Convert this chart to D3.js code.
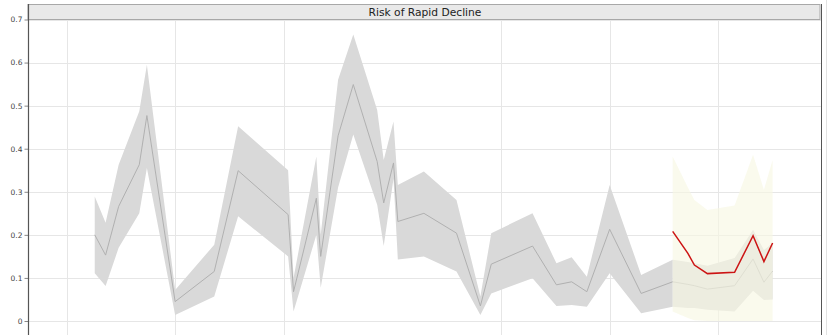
<!DOCTYPE html>
<html>
<head>
<meta charset="utf-8">
<script src="https://cdn.jsdelivr.net/npm/d3@7"></script>
<style>
    body { margin: 0; background: #fff; }
    svg { display: block; font-family: "DejaVu Sans", Verdana, sans-serif; }
</style>
</head>
<body>
<div id="chart"></div>
<script>
// Modelled risk (grey band) - decimal years
const dates = [2008.26, 2008.36, 2008.48, 2008.67, 2008.74, 2009.00, 2009.36, 2009.58,
    2010.04, 2010.09, 2010.30, 2010.34, 2010.50, 2010.64, 2010.86, 2010.92, 2011.01, 2011.05,
    2011.29, 2011.59, 2011.81, 2011.91, 2012.29, 2012.51, 2012.65, 2012.79, 2013.00, 2013.29, 2013.58];
const riskMid = [0.200, 0.153, 0.266, 0.363, 0.477, 0.045, 0.115, 0.349,
    0.247, 0.068, 0.285, 0.150, 0.430, 0.549, 0.370, 0.274, 0.367, 0.231,
    0.250, 0.204, 0.035, 0.132, 0.174, 0.084, 0.091, 0.068, 0.213, 0.064, 0.091];
const riskHigh = [0.289, 0.228, 0.363, 0.487, 0.595, 0.072, 0.177, 0.452,
    0.350, 0.100, 0.382, 0.200, 0.560, 0.665, 0.490, 0.374, 0.463, 0.316,
    0.347, 0.281, 0.057, 0.204, 0.250, 0.134, 0.148, 0.103, 0.316, 0.107, 0.142];
const riskLow = [0.111, 0.081, 0.170, 0.250, 0.355, 0.014, 0.057, 0.243,
    0.150, 0.022, 0.200, 0.077, 0.310, 0.433, 0.270, 0.174, 0.330, 0.143,
    0.150, 0.115, 0.014, 0.064, 0.099, 0.035, 0.037, 0.033, 0.111, 0.018, 0.033];

// Forecast period
const fcDates = [2013.58, 2013.72, 2013.78, 2013.90, 2014.15, 2014.32, 2014.42, 2014.50];
const fcMid = [0.091, 0.085, 0.082, 0.074, 0.082, 0.144, 0.090, 0.116];
const fcHigh = [0.142, 0.137, 0.134, 0.128, 0.146, 0.212, 0.165, 0.181];
const fcLow = [0.033, 0.030, 0.030, 0.026, 0.022, 0.070, 0.049, 0.050];
const fcOuterHigh = [0.382, 0.310, 0.281, 0.258, 0.268, 0.386, 0.305, 0.374];
const fcOuterLow = [0.022, 0.007, 0.002, 0.000, 0.000, 0.000, 0.000, 0.000];
const observed = [0.208, 0.157, 0.130, 0.110, 0.113, 0.198, 0.138, 0.181];

const yTicks = [0, 0.1, 0.2, 0.3, 0.4, 0.5, 0.6, 0.7];
const xGrid = [2008, 2009, 2010, 2012, 2013, 2014];
const title = 'Risk of Rapid Decline';

const width = 829, height = 335;
const plotLeft = 28, plotRight = 821, stripTop = 4, plotTop = 19.5, plotBottom = 345;

const svg = d3.select('#chart').append('svg')
    .attr('width', width)
    .attr('height', height);

const x = d3.scaleLinear().domain([2008, 2014]).range([66.5, 718.3]);
const y = d3.scaleLinear().domain([0, 0.7]).range([321, plotTop]);

svg.append('clipPath').attr('id', 'plot-clip')
    .append('rect')
    .attr('x', plotLeft).attr('y', plotTop)
    .attr('width', plotRight - plotLeft).attr('height', plotBottom - plotTop);

// Gridlines
const grid = svg.append('g').attr('clip-path', 'url(#plot-clip)');
grid.selectAll('.hgrid').data(yTicks).enter().append('line')
    .attr('x1', plotLeft).attr('x2', plotRight)
    .attr('y1', d => Math.round(y(d)) + 0.5).attr('y2', d => Math.round(y(d)) + 0.5)
    .attr('stroke', '#e6e6e6');
grid.selectAll('.vgrid').data(xGrid).enter().append('line')
    .attr('x1', d => Math.round(x(d)) + 0.5).attr('x2', d => Math.round(x(d)) + 0.5)
    .attr('y1', plotTop).attr('y2', plotBottom)
    .attr('stroke', '#e6e6e6');

const plot = svg.append('g').attr('clip-path', 'url(#plot-clip)');

const hist = dates.map((d, i) => ({ t: d, mid: riskMid[i], hi: riskHigh[i], lo: riskLow[i] }));
const fc = fcDates.map((d, i) => ({
    t: d, mid: fcMid[i], hi: fcHigh[i], lo: fcLow[i],
    ohi: fcOuterHigh[i], olo: fcOuterLow[i], obs: observed[i]
}));

const band = d3.area().x(d => x(d.t)).y0(d => y(d.lo)).y1(d => y(d.hi));
const midLine = d3.line().x(d => x(d.t)).y(d => y(d.mid));

// Grey band + central line
plot.append('path').datum(hist).attr('d', band).attr('fill', '#d9d9d9');
plot.append('path').datum(fc).attr('d', band).attr('fill', '#d9d9d9');
plot.append('path').datum(hist).attr('d', midLine)
    .attr('fill', 'none').attr('stroke', '#b0b0b0').attr('stroke-width', 1);
plot.append('path').datum(fc).attr('d', midLine)
    .attr('fill', 'none').attr('stroke', '#b0b0b0').attr('stroke-width', 1);

// Forecast outer band (semi transparent)
plot.append('path').datum(fc)
    .attr('d', d3.area().x(d => x(d.t)).y0(d => y(d.olo)).y1(d => y(d.ohi)))
    .attr('fill', '#f7f7e4').attr('opacity', 0.65);

// Observed red line
plot.append('path').datum(fc)
    .attr('d', d3.line().x(d => x(d.t)).y(d => y(d.obs)))
    .attr('fill', 'none').attr('stroke', '#cc1414').attr('stroke-width', 1.5);

// Title strip
svg.append('rect')
    .attr('x', plotLeft).attr('y', stripTop + 0.5)
    .attr('width', plotRight - plotLeft - 1).attr('height', plotTop - stripTop - 0.5)
    .attr('fill', '#e9e9e9').attr('stroke', '#a8a8a8').attr('stroke-width', 1);
svg.append('text')
    .attr('x', (plotLeft + plotRight) / 2 + 0.5).attr('y', 15.5)
    .attr('text-anchor', 'middle')
    .style('font-size', '10.7px').style('fill', '#222')
    .text(title);

// Right border
svg.append('line')
    .attr('x1', plotRight + 0.5).attr('x2', plotRight + 0.5)
    .attr('y1', stripTop).attr('y2', height)
    .attr('stroke', '#555');
svg.append('line')
    .attr('x1', 826.5).attr('x2', 826.5)
    .attr('y1', 0).attr('y2', height)
    .attr('stroke', '#e2e2e2');

// Y axis
const yAxis = d3.axisLeft(y)
    .tickValues(yTicks)
    .tickSize(4)
    .tickPadding(2)
    .tickFormat(d => d === 0 ? '0' : d3.format('.1f')(d));
const ag = svg.append('g').attr('transform', `translate(${plotLeft + 0.5},0)`).call(yAxis);
ag.select('.domain').remove();
ag.selectAll('.tick line').attr('stroke', '#888');
ag.selectAll('.tick text')
    .style('font-size', '7.5px').style('fill', '#444')
    .style('font-family', '"DejaVu Sans", Verdana, sans-serif');
svg.append('line')
    .attr('x1', plotLeft + 0.5).attr('x2', plotLeft + 0.5)
    .attr('y1', stripTop).attr('y2', height)
    .attr('stroke', '#555').attr('stroke-width', 1.2);
</script>
</body>
</html>
